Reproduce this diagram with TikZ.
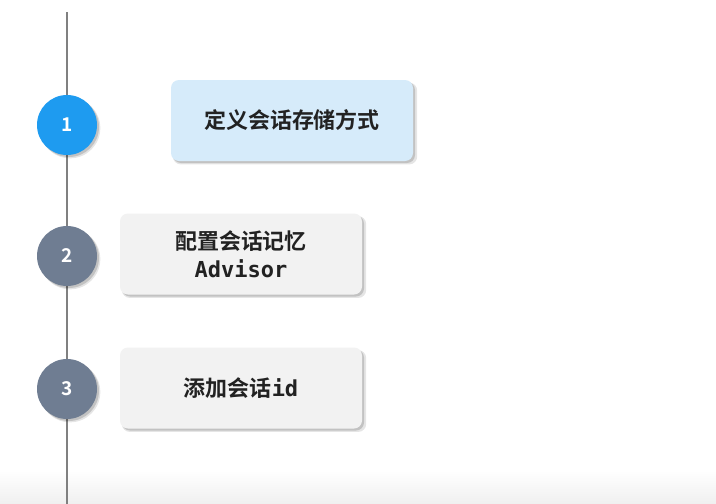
\documentclass[tikz,border=0pt]{standalone}
\usepackage{fontspec}
\setmainfont{Noto Sans CJK SC}
\newfontfamily\cjkb{Noto Sans CJK SC Bold}
\newfontfamily\monob{DejaVu Sans Mono}
\usetikzlibrary{shadows,fadings}
\definecolor{stepblue}{HTML}{1E9BF0}
\definecolor{stepgray}{HTML}{6F7D92}
\definecolor{boxblue}{HTML}{D6EBFA}
\definecolor{boxgray}{HTML}{F2F2F2}
\definecolor{txtdark}{HTML}{222222}
\definecolor{linegray}{HTML}{808080}
\tikzset{
  x=1pt,y=-1pt,
  softshadow/.style={
    general shadow={shadow xshift=3pt,shadow yshift=-3pt,fill=black,opacity=0.10,shadow scale=1.01},
    general shadow={shadow xshift=2pt,shadow yshift=-2pt,fill=black,opacity=0.15}},
  numcircle/.style={circle,minimum size=60pt,inner sep=0pt,text=white,
    font=\fontsize{19}{20}\cjkb, softshadow},
  stepbox/.style={rounded corners=8pt,minimum width=242pt,minimum height=81pt,
    align=center,text=txtdark,font=\fontsize{22}{28}\cjkb, softshadow},
}
\begin{document}
\begin{tikzpicture}
\useasboundingbox (0,0) rectangle (716,504);
\fill[white] (0,0) rectangle (716,504);
\shade[top color=white,bottom color=black!6] (0,470) rectangle (716,504);
\coordinate (top) at (67,12);
\coordinate (bot) at (67,504);
\draw[linegray,line width=1.3pt] (top) -- (bot);
\node[numcircle,fill=stepblue] (c1) at (67,125) {1};
\node[numcircle,fill=stepgray] (c2) at (67,256) {2};
\node[numcircle,fill=stepgray] (c3) at (67,389) {3};
\node[stepbox,fill=boxblue] (b1) at (292,120.5) {定义会话存储方式};
\node[stepbox,fill=boxgray] (b2) at (241,254) {配置会话记忆\\{\monob\bfseries Advisor}};
\node[stepbox,fill=boxgray] (b3) at (241,388) {添加会话{\monob\bfseries id}};
\end{tikzpicture}
\end{document}
